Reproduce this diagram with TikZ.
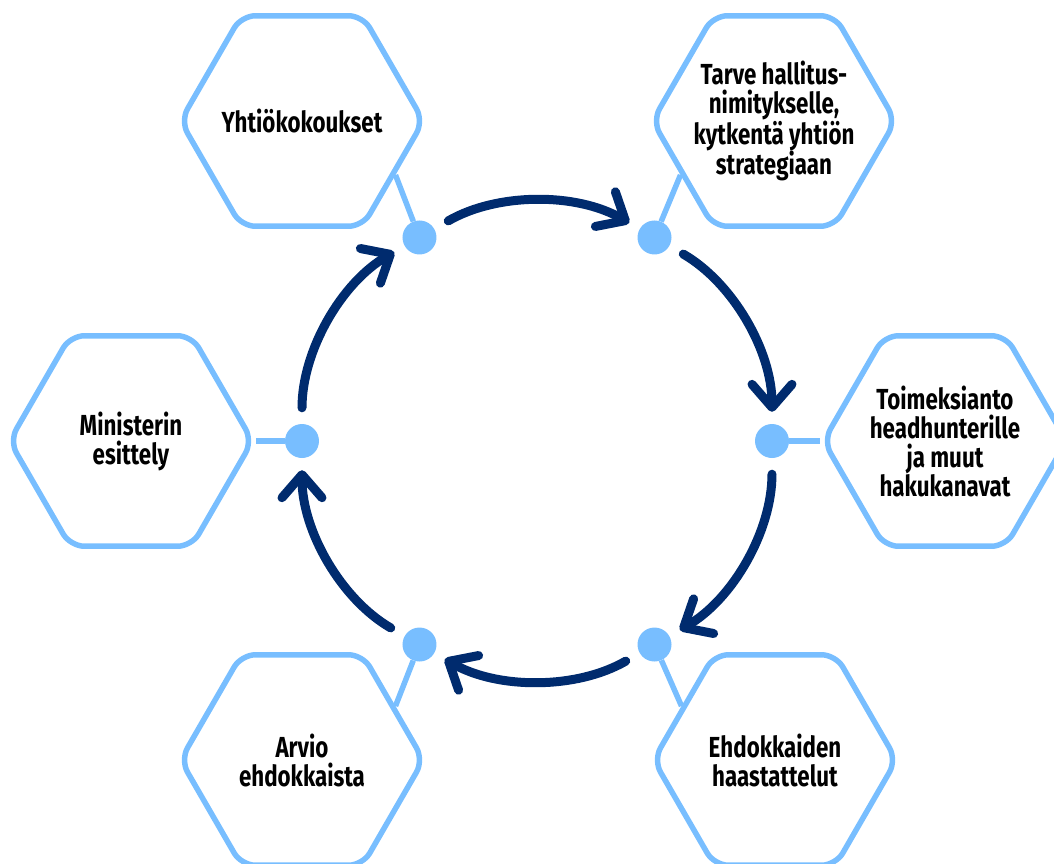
\documentclass[tikz,border=0pt]{standalone}
\usepackage{fontspec}
\setmainfont{Fira Sans}[FakeStretch=0.77]
\usetikzlibrary{shapes.geometric, arrows.meta}
\definecolor{sky_blue}{RGB}{120, 190, 255}
\definecolor{deep_navy}{RGB}{0, 43, 110}

\begin{document}
\begin{tikzpicture}[x=1pt, y=1pt,
    % Node styles
    stage/.style={
        regular polygon,
        regular polygon sides=6,
        draw=#1,
        line width=5.5pt,
        rounded corners=14pt,
        minimum size=243pt,
        inner sep=0pt
    },
    stage_text/.style={
        align=center,
        text=black,
        inner sep=0pt,
        font=\bfseries\fontsize{29}{29}\selectfont
    },
    hub/.style={
        circle,
        fill=#1,
        minimum size=34pt,
        inner sep=0pt
    },
    link/.style={
        line width=5.5pt,
        #1
    },
    cycle_arrow/.style={
        -{Straight Barb[length=23pt, width=40pt, round]},
        line width=9pt,
        line cap=round,
        shorten <=16pt,
        shorten >=12pt,
        #1
    }
]
\useasboundingbox (-537,-422) rectangle (517,441);

% Position nodes
\node[stage=sky_blue, label={[stage_text]center:Yhtiökokoukset}] (meetings) at (-235,320) {};
\node[stage=sky_blue, label={[stage_text]center:Tarve hallitus-\\nimitykselle,\\kytkentä yhtiön\\strategiaan}] (need) at (237,320) {};
\node[stage=sky_blue, label={[stage_text]center:Toimeksianto\\headhunterille\\ja muut\\hakukanavat}] (search) at (408,0) {};
\node[stage=sky_blue, label={[stage_text]center:Ehdokkaiden\\haastattelut}] (interviews) at (238,-319) {};
\node[stage=sky_blue, label={[stage_text]center:Arvio\\ehdokkaista}] (review) at (-235,-319) {};
\node[stage=sky_blue, label={[stage_text]center:Ministerin\\esittely}] (minister) at (-406,0) {};

\node[hub=sky_blue] (d_meetings) at (120:235) {};
\node[hub=sky_blue] (d_need) at (60:235) {};
\node[hub=sky_blue] (d_search) at (0:235) {};
\node[hub=sky_blue] (d_interviews) at (-60:235) {};
\node[hub=sky_blue] (d_review) at (-120:235) {};
\node[hub=sky_blue] (d_minister) at (180:235) {};

\draw[link=sky_blue] (d_meetings) -- (meetings.-30);
\draw[link=sky_blue] (d_need) -- (need.210);
\draw[link=sky_blue] (d_search) -- (search.180);
\draw[link=sky_blue] (d_interviews) -- (interviews.150);
\draw[link=sky_blue] (d_review) -- (review.30);
\draw[link=sky_blue] (d_minister) -- (minister.0);

\draw[cycle_arrow=deep_navy] (d_meetings) to[bend left=30, looseness=0.91] (d_need);
\draw[cycle_arrow=deep_navy] (d_need) to[bend left=30, looseness=0.91] (d_search);
\draw[cycle_arrow=deep_navy] (d_search) to[bend left=30, looseness=0.91] (d_interviews);
\draw[cycle_arrow=deep_navy] (d_interviews) to[bend left=30, looseness=0.91] (d_review);
\draw[cycle_arrow=deep_navy] (d_review) to[bend left=30, looseness=0.91] (d_minister);
\draw[cycle_arrow=deep_navy] (d_minister) to[bend left=30, looseness=0.91] (d_meetings);

\end{tikzpicture}
\end{document}
